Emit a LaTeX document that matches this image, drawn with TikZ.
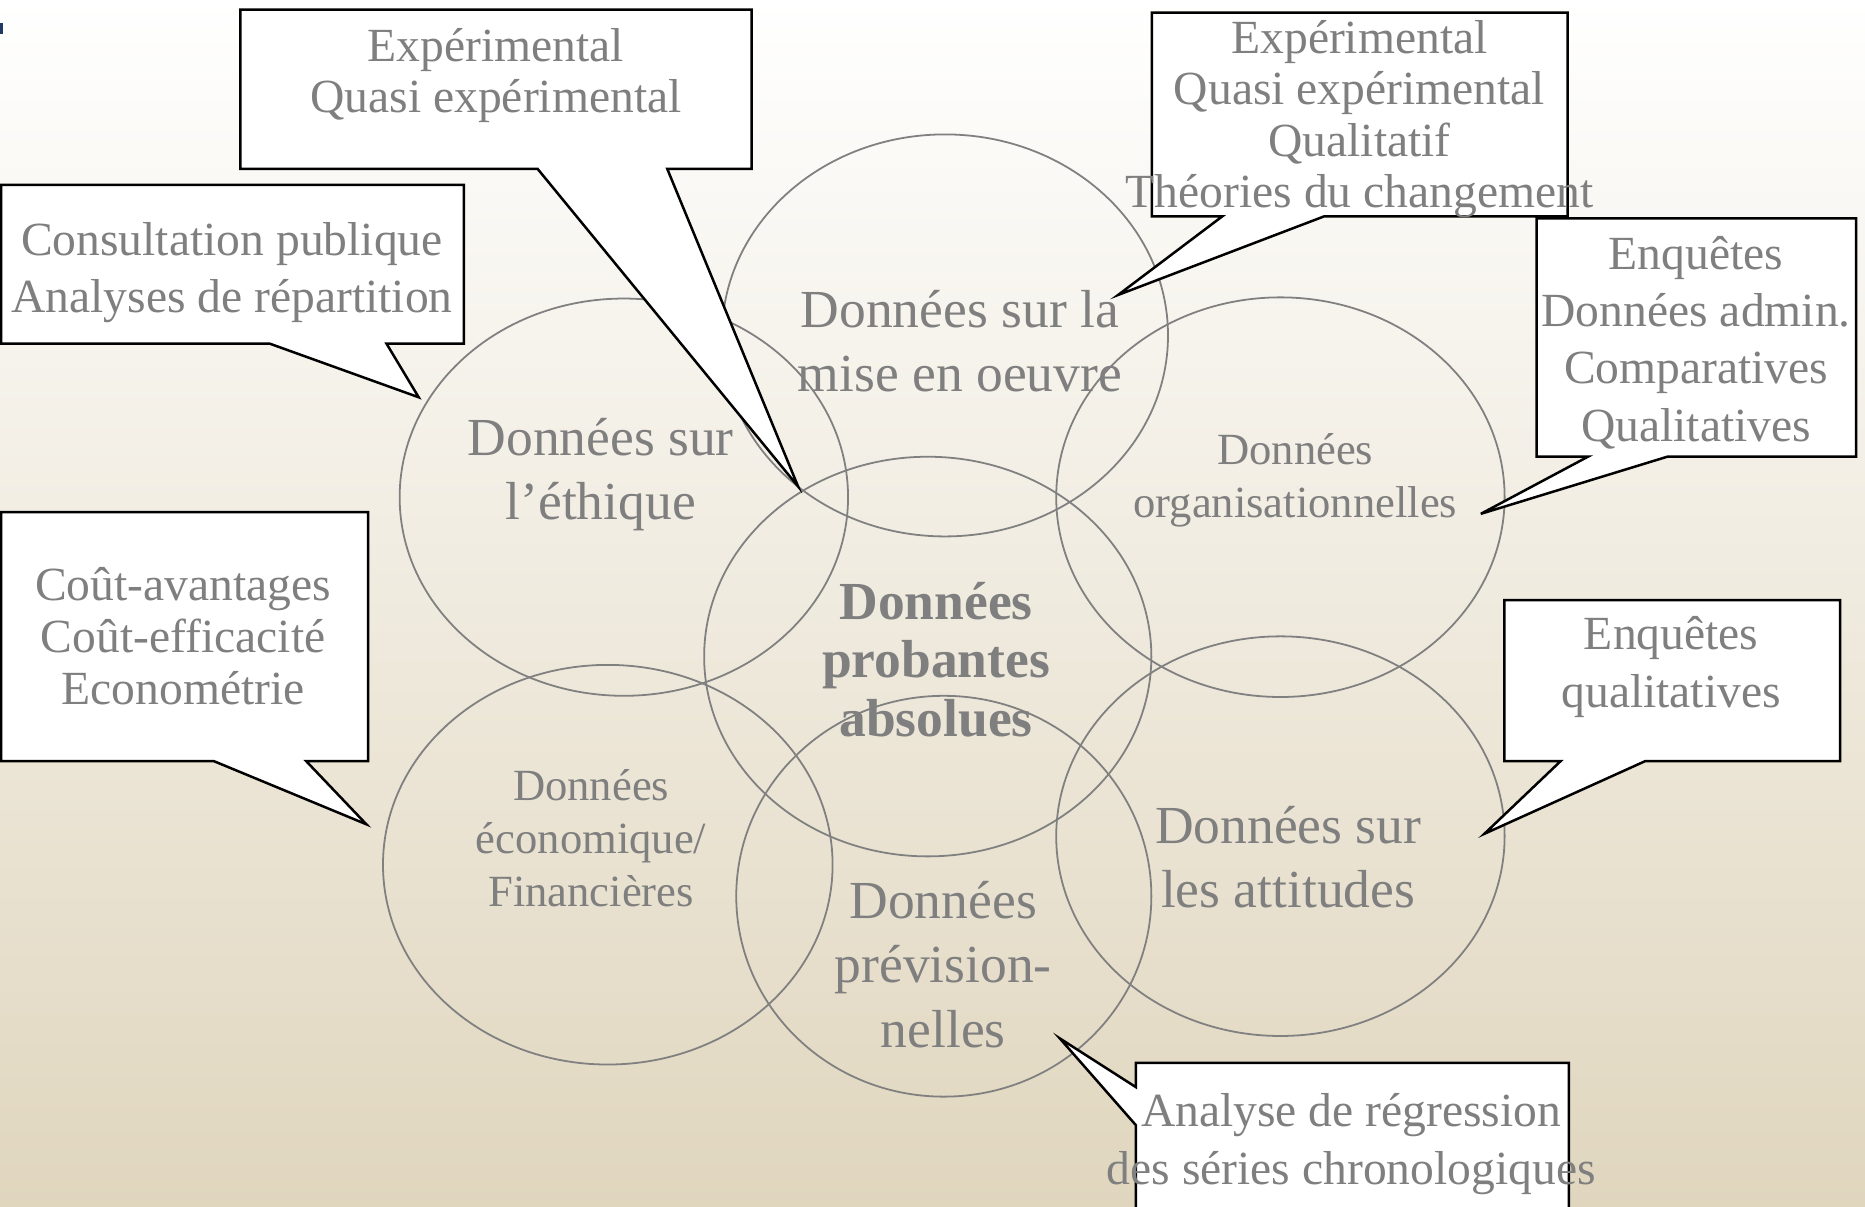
\documentclass[tikz,border=0pt]{standalone}
\usepackage{fontspec}
\setmainfont{Liberation Serif}
\definecolor{txtgray}{RGB}{127,127,127}
\definecolor{ringgray}{RGB}{128,128,128}
\definecolor{beige}{RGB}{224,214,190}
\definecolor{navy}{RGB}{31,56,100}
\tikzset{
  ring/.style={draw=ringgray, line width=1.5pt},
  bigtxt/.style={text=txtgray, align=center, font=\fontsize{45}{54}\selectfont, inner sep=0pt},
  midtxt/.style={text=txtgray, align=center, font=\fontsize{37.5}{44.5}\selectfont, inner sep=0pt},
  boldtxt/.style={text=txtgray, align=center, font=\bfseries\fontsize{45}{49}\selectfont, inner sep=0pt},
  calltxt/.style={text=txtgray, align=center, inner sep=0pt},
  callout/.style={draw=black, fill=white, line width=2.1pt, line join=miter},
}
\begin{document}
\begin{tikzpicture}[x=1pt,y=-1pt]
\useasboundingbox (0,0) rectangle (1568,1014);
\clip (0,0) rectangle (1568,1014);
\shade[top color=white, middle color={rgb,255:red,241;green,236;blue,225}, bottom color=beige] (0,-1) rectangle (1568,1015);
\fill[navy] (0,19) rectangle (2.5,29);

% ellipses
\draw[ring] (524.5,418) ellipse [x radius=188.5, y radius=167];
\draw[ring] (794.5,282) ellipse [x radius=187.5, y radius=169];
\draw[ring] (1076.5,418) ellipse [x radius=188.5, y radius=168];
\draw[ring] (780,552) ellipse [x radius=188, y radius=168];
\draw[ring] (511,727) ellipse [x radius=189, y radius=168];
\draw[ring] (793.5,753.5) ellipse [x radius=174.5, y radius=168.5];
\draw[ring] (1076.5,703) ellipse [x radius=188.5, y radius=168];

% ellipse labels
\node[bigtxt] (ethique) at (505,399) {Données sur\\l’éthique};
\node[bigtxt] (mise) at (807,287) {Données sur la\\mise en oeuvre};
\node[midtxt] (orga) at (1089,404) {Données\\organisationnelles};
\node[boldtxt] (centre) at (787,554.5) {Données\\probantes\\absolues};
\node[midtxt] (econ) at (497,705) {Données\\économique/\\Financières};
\node[bigtxt] (prev) at (793,811) {Données\\prévision-\\nelles};
\node[bigtxt] (attit) at (1083,720.5) {Données sur\\les attitudes};

% callout 1
\coordinate (t1) at (671,409);
\draw[callout] (202,8) -- (632,8) -- (632,142) -- (561,142) -- (t1) -- (452,142) -- (202,142) -- cycle;
\node[calltxt, font=\fontsize{40}{43.5}\selectfont] (c1) at (417,63.5) {Expérimental\\Quasi expérimental};

% callout 2
\coordinate (t2) at (352,334);
\draw[callout] (1,155.5) -- (390,155.5) -- (390,289) -- (325,289) -- (t2) -- (227,289) -- (1,289) -- cycle;
\node[calltxt, font=\fontsize{40}{48}\selectfont] (c2) at (195,229) {Consultation publique\\Analyses de répartition};

% callout 3
\coordinate (t3) at (940,248);
\draw[callout] (968.5,10.7) -- (1318,10.7) -- (1318,182) -- (1113,182) -- (t3) -- (1027.5,182) -- (968.5,182) -- cycle;
\node[calltxt, font=\fontsize{40}{43.3}\selectfont] (c3) at (1143,100) {Expérimental\\Quasi expérimental\\Qualitatif\\Théories du changement};

% callout 4
\coordinate (t4) at (1245,432);
\draw[callout] (1292,183.5) -- (1560.5,183.5) -- (1560.5,384) -- (1401.7,384) -- (t4) -- (1335,384) -- (1292,384) -- cycle;
\node[calltxt, font=\fontsize{40}{48.3}\selectfont] (c4) at (1426,288) {Enquêtes\\Données admin.\\Comparatives\\Qualitatives};

% callout 5
\coordinate (t5) at (308,693);
\draw[callout] (1,430.6) -- (309.6,430.6) -- (309.6,640) -- (257.5,640) -- (t5) -- (180,640) -- (1,640) -- cycle;
\node[calltxt, font=\fontsize{40}{44}\selectfont] (c5) at (154,535) {Coût-avantages\\Coût-efficacité\\Econométrie};

% callout 6
\coordinate (t6) at (1248,701);
\draw[callout] (1264.7,504.5) -- (1547,504.5) -- (1547,640) -- (1383,640) -- (t6) -- (1312,640) -- (1264.7,640) -- cycle;
\node[calltxt, font=\fontsize{40}{49}\selectfont] (c6) at (1405,561) {Enquêtes\\qualitatives};

% callout 7
\coordinate (t7) at (891,873);
\draw[callout] (955,914) -- (t7) -- (955,946) -- (955,1030) -- (1319,1030) -- (1319,893.5) -- (955,893.5) -- cycle;
\node[calltxt, font=\fontsize{40}{49}\selectfont] (c7) at (1136,962) {Analyse de régression\\des séries chronologiques};
\end{tikzpicture}
\end{document}
